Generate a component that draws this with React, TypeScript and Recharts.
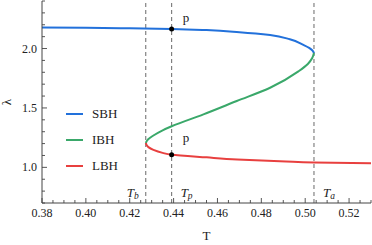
import React from "react";
import { LineChart, Line, XAxis, YAxis, ReferenceLine, ReferenceDot } from "recharts";

// small-black-hole branch (upper)
const SBH_T = [0.504, 0.5032, 0.5018, 0.4992, 0.493, 0.484, 0.47, 0.455, 0.4391, 0.42, 0.4, 0.38];
const SBH_LAM = [1.962, 1.985, 2.005, 2.03, 2.078, 2.114, 2.138, 2.155, 2.164, 2.17, 2.175, 2.178];

// intermediate branch
const IBH_T = [0.4273, 0.4283, 0.4308, 0.435, 0.4391, 0.4536, 0.4688, 0.484, 0.4969, 0.5012, 0.5032, 0.504];
const IBH_LAM = [1.205, 1.235, 1.268, 1.312, 1.346, 1.446, 1.558, 1.67, 1.808, 1.87, 1.92, 1.962];

// large branch (lower)
const LBH_T = [0.53, 0.504, 0.4913, 0.469, 0.4551, 0.4391, 0.435, 0.4308, 0.4285, 0.4273];
const LBH_LAM = [1.034, 1.041, 1.049, 1.067, 1.084, 1.106, 1.122, 1.147, 1.17, 1.205];

const SERIES_NAMES = ["SBH", "IBH", "LBH"];
const SERIES_COLORS = ["#2271db", "#3aa86a", "#e8403f"];

const T_MARKS = [0.4273, 0.4391, 0.504];
const T_MARK_LABELS = ["b", "p", "a"];
const P_POINTS_LAM = [2.164, 1.106];

const X_MAJOR = [0.38, 0.4, 0.42, 0.44, 0.46, 0.48, 0.5, 0.52];
const Y_MAJOR = [1.0, 1.5, 2.0];
const X_TICKS = Array.from({ length: 31 }, (_, i) => +(0.38 + i * 0.005).toFixed(3));
const Y_TICKS = Array.from({ length: 18 }, (_, i) => +(0.7 + i * 0.1).toFixed(1));

const FONT = '"Liberation Serif", "Times New Roman", Times, serif';
const FRAME = "#444";

const zip = (ts: number[], ls: number[]) => ts.map((T, i) => ({ T, lam: ls[i] }));
const SERIES = [zip(SBH_T, SBH_LAM), zip(IBH_T, IBH_LAM), zip(LBH_T, LBH_LAM)];

type Side = "bottom" | "top" | "left" | "right";

function frameTick(side: Side, majors: number[], labels: boolean) {
  return (props: any) => {
    const { x, y, payload } = props;
    const v = payload.value;
    const major = majors.some((m) => Math.abs(m - v) < 1e-6);
    const len = major ? 5 : 3;
    let x2 = x,
      y2 = y;
    if (side === "bottom") y2 = y - len;
    if (side === "top") y2 = y + len;
    if (side === "left") x2 = x + len;
    if (side === "right") x2 = x - len;
    return (
      <g>
        <line x1={x} y1={y} x2={x2} y2={y2} stroke={FRAME} strokeWidth={0.9} />
        {labels && major && side === "bottom" && (
          <text x={x} y={y + 14} textAnchor="middle" fontSize={12} fontFamily={FONT} fill="#222">
            {v.toFixed(2)}
          </text>
        )}
        {labels && major && side === "left" && (
          <text x={x - 5} y={y + 4} textAnchor="end" fontSize={12} fontFamily={FONT} fill="#222">
            {v.toFixed(1)}
          </text>
        )}
      </g>
    );
  };
}

function markLabel(sub: string, before: boolean) {
  return (props: any) => {
    const vb = props.viewBox;
    const bottom = Math.max(vb.y, vb.y + vb.height);
    return (
      <text
        x={before ? vb.x - 7 : vb.x + 9}
        y={bottom - 6}
        textAnchor={before ? "end" : "start"}
        fontSize={13}
        fontFamily={FONT}
        fill="#222"
      >
        <tspan fontStyle="italic">T</tspan>
        <tspan fontStyle="italic" fontSize={9.5} dy={2}>
          {sub}
        </tspan>
      </text>
    );
  };
}

function pLabel(dy: number) {
  return (props: any) => {
    const vb = props.viewBox;
    const cx = vb.x + vb.width / 2;
    const cy = vb.y + vb.height / 2;
    return (
      <text x={cx + 11} y={cy + dy} fontSize={13} fontFamily={FONT} fill="#222">
        p
      </text>
    );
  };
}

export default function App() {
  return (
    <div
      style={{
        position: "absolute",
        left: 0,
        top: 0,
        width: 372,
        height: 245,
        background: "#fff",
        fontFamily: FONT,
      }}
    >
      <LineChart width={372} height={245} margin={{ top: 1, right: 1, bottom: 0, left: 0 }}>
        <XAxis
          dataKey="T"
          type="number"
          domain={[0.38, 0.53]}
          allowDataOverflow
          ticks={X_TICKS}
          interval={0}
          height={42}
          tickSize={0}
          tickMargin={0}
          tickLine={false}
          axisLine={{ stroke: FRAME }}
          tick={frameTick("bottom", X_MAJOR, true)}
          label={{
            content: (p: any) => (
              <text
                x={p.viewBox.x + p.viewBox.width / 2}
                y={240}
                textAnchor="middle"
                fontSize={13}
                fontFamily={FONT}
                fill="#222"
              >
                T
              </text>
            ),
          }}
        />
        <XAxis
          xAxisId="top"
          orientation="top"
          dataKey="T"
          type="number"
          domain={[0.38, 0.53]}
          allowDataOverflow
          ticks={X_TICKS}
          interval={0}
          height={0}
          tickSize={0}
          tickMargin={0}
          tickLine={false}
          axisLine={{ stroke: FRAME }}
          tick={frameTick("top", X_MAJOR, false)}
        />
        <YAxis
          type="number"
          domain={[0.7, 2.4]}
          allowDataOverflow
          ticks={Y_TICKS}
          interval={0}
          width={42}
          tickSize={0}
          tickMargin={0}
          tickLine={false}
          axisLine={{ stroke: FRAME }}
          tick={frameTick("left", Y_MAJOR, true)}
          label={{
            content: (p: any) => {
              const cy = p.viewBox.y + p.viewBox.height / 2;
              return (
                <text
                  x={11}
                  y={cy}
                  transform={`rotate(-90 11 ${cy})`}
                  textAnchor="middle"
                  fontSize={13}
                  fontFamily={FONT}
                  fill="#222"
                >
                  λ
                </text>
              );
            },
          }}
        />
        <YAxis
          yAxisId="right"
          orientation="right"
          type="number"
          domain={[0.7, 2.4]}
          allowDataOverflow
          ticks={Y_TICKS}
          interval={0}
          width={0}
          tickSize={0}
          tickMargin={0}
          tickLine={false}
          axisLine={{ stroke: FRAME }}
          tick={frameTick("right", Y_MAJOR, false)}
        />
        {T_MARKS.map((t, i) => (
          <ReferenceLine
            key={t}
            x={t}
            stroke="#777"
            strokeWidth={1.1}
            strokeDasharray="4 3"
            label={markLabel(T_MARK_LABELS[i], i === 0)}
          />
        ))}
        {SERIES.map((d, i) => (
          <Line
            key={SERIES_NAMES[i]}
            data={d}
            dataKey="lam"
            name={SERIES_NAMES[i]}
            type="monotoneY"
            stroke={SERIES_COLORS[i]}
            strokeWidth={2}
            dot={false}
            isAnimationActive={false}
          />
        ))}
        {P_POINTS_LAM.map((lam, i) => (
          <ReferenceDot
            key={lam}
            x={T_MARKS[1]}
            y={lam}
            r={2.5}
            fill="#000"
            stroke="none"
            label={pLabel(i === 0 ? -7 : -13)}
          />
        ))}
      </LineChart>
      <div style={{ position: "absolute", left: 66, top: 100.5, fontFamily: FONT, fontSize: 13, color: "#222" }}>
        {SERIES_NAMES.map((n, i) => (
          <div key={n} style={{ display: "flex", alignItems: "center", height: 26 }}>
            <svg width={17} height={4} style={{ display: "block" }}>
              <line x1={0} y1={2} x2={17} y2={2} stroke={SERIES_COLORS[i]} strokeWidth={2} />
            </svg>
            <span style={{ marginLeft: 9 }}>{n}</span>
          </div>
        ))}
      </div>
    </div>
  );
}
